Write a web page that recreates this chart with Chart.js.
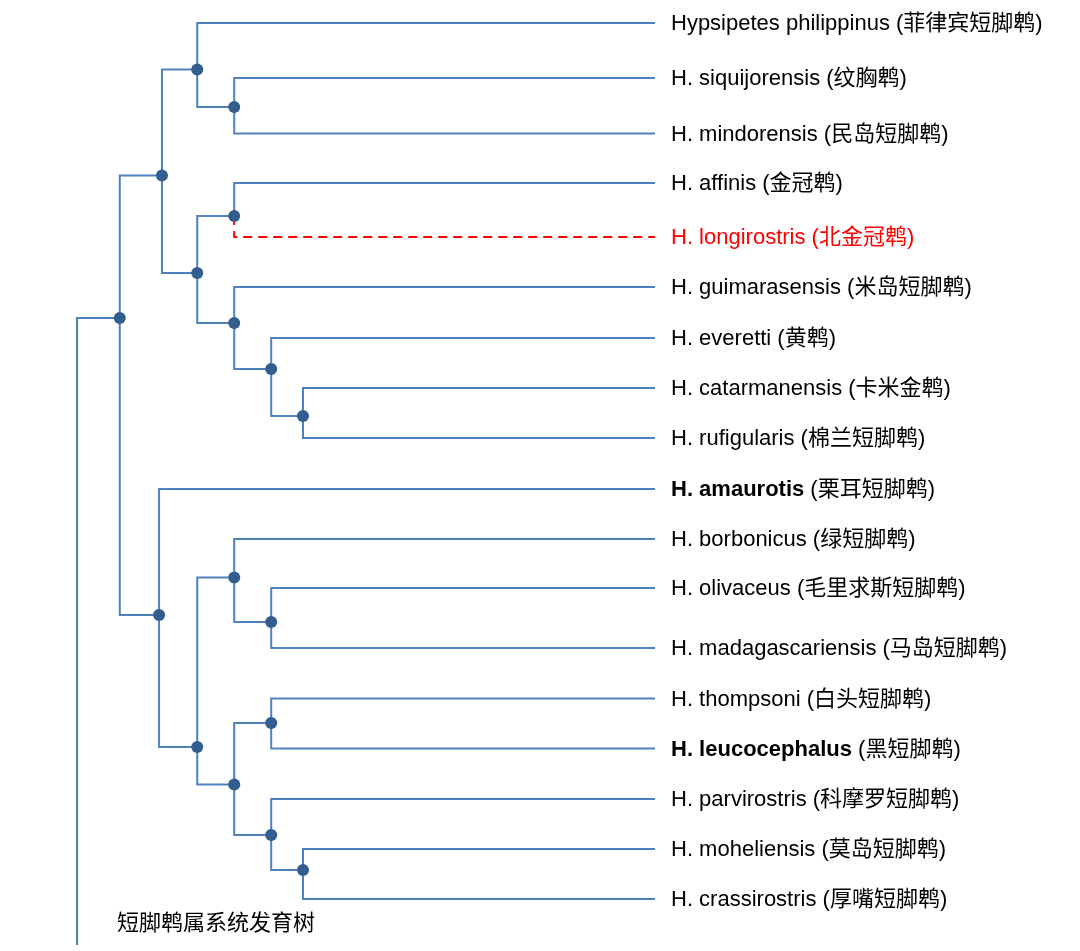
<!DOCTYPE html>
<html>
<head>
<meta charset="utf-8">
<script src="https://cdn.jsdelivr.net/npm/chart.js@4.4.1/dist/chart.umd.min.js"></script>
<style>
  html, body { margin: 0; padding: 0; background: #ffffff; }
  #wrap { width: 1080px; height: 951px; position: relative; }
</style>
</head>
<body>
<div id="wrap"><canvas id="tree"></canvas></div>
<script>
// leaves (top to bottom)
const leafLatin = [
  "Hypsipetes philippinus", "H. siquijorensis", "H. mindorensis", "H. affinis",
  "H. longirostris", "H. guimarasensis", "H. everetti", "H. catarmanensis",
  "H. rufigularis", "H. amaurotis", "H. borbonicus", "H. olivaceus",
  "H. madagascariensis", "H. thompsoni", "H. leucocephalus", "H. parvirostris",
  "H. moheliensis", "H. crassirostris"
];
const leafChinese = [
  "菲律宾短脚鹎", "纹胸鹎", "民岛短脚鹎", "金冠鹎", "北金冠鹎", "米岛短脚鹎",
  "黄鹎", "卡米金鹎", "棉兰短脚鹎", "栗耳短脚鹎", "绿短脚鹎", "毛里求斯短脚鹎",
  "马岛短脚鹎", "白头短脚鹎", "黑短脚鹎", "科摩罗短脚鹎", "莫岛短脚鹎", "厚嘴短脚鹎"
];
const leafRow = [0, 1.1, 2.21, 3.2, 4.28, 5.28, 6.3, 7.3, 8.3, 9.32, 10.32, 11.3, 12.5, 13.51, 14.51, 15.52, 16.52, 17.52];
const leafParent = [3, 4, 4, 6, 6, 7, 8, 9, 9, 10, 12, 13, 13, 15, 15, 16, 17, 17];
const boldLeaves = ["H. amaurotis", "H. leucocephalus"];
const dashedLeaves = ["H. longirostris"];
const tipDepth = 10;

// internal nodes, index 0 is the base of the root stem
const nodeDepth = [0, 0.74, 1.47, 2.08, 2.72, 2.08, 2.72, 2.72, 3.36, 3.91, 1.42, 2.08, 2.72, 3.36, 2.72, 3.36, 3.36, 3.91];
const nodeRow = [18.44, 5.9, 3.05, 0.93, 1.68, 5.0, 3.86, 6.0, 6.92, 7.86, 11.84, 14.48, 11.09, 11.98, 15.23, 14.0, 16.24, 16.94];
const nodeParent = [-1, 0, 1, 2, 3, 2, 5, 5, 7, 8, 1, 10, 11, 12, 11, 14, 14, 16];

const chartTitle = "短脚鹎属系统发育树";

const blue = "#4f81bd";
const dotBlue = "#335d8e";
const red = "#ff0000";

function elbow(px, py, cx, cy) {
  return [{ x: px, y: py }, { x: px, y: cy }, { x: cx, y: cy }];
}

const datasets = [];

// node dots on top
datasets.push({
  label: "nodes",
  data: nodeDepth.map((d, i) => ({ x: d, y: nodeRow[i] })).slice(1),
  showLine: false,
  pointRadius: 6,
  pointHoverRadius: 6,
  pointBackgroundColor: dotBlue,
  pointBorderColor: dotBlue,
  pointBorderWidth: 0,
  clip: false,
  order: 0
});

nodeParent.forEach((p, i) => {
  if (p < 0) return;
  datasets.push({
    data: elbow(nodeDepth[p], nodeRow[p], nodeDepth[i], nodeRow[i]),
    showLine: true,
    borderColor: blue,
    borderWidth: 2,
    pointRadius: 0,
    clip: false,
    order: 1
  });
});

leafParent.forEach((p, i) => {
  const dashed = dashedLeaves.includes(leafLatin[i]);
  datasets.push({
    data: elbow(nodeDepth[p], nodeRow[p], tipDepth, leafRow[i]),
    showLine: true,
    borderColor: dashed ? red : blue,
    borderDash: dashed ? [9, 6] : [],
    borderWidth: 2,
    pointRadius: 0,
    clip: false,
    order: 1
  });
});

const labelPlugin = {
  id: "leafLabels",
  afterDraw(chart) {
    const ctx = chart.ctx;
    const xs = chart.scales.x;
    const ys = chart.scales.y;
    const x0 = xs.getPixelForValue(tipDepth) + 16;
    ctx.save();
    ctx.textBaseline = "middle";
    ctx.textAlign = "left";
    leafLatin.forEach((name, i) => {
      const y = ys.getPixelForValue(leafRow[i]) + 1;
      const isRed = dashedLeaves.includes(name);
      const isBold = boldLeaves.includes(name);
      ctx.fillStyle = isRed ? red : "#000000";
      ctx.font = (isBold ? "bold " : "") + '22px "Liberation Sans", Arial, "Noto Sans CJK SC", sans-serif';
      ctx.fillText(name, x0, y);
      const w = ctx.measureText(name).width;
      ctx.font = '22px "Liberation Sans", Arial, "Noto Sans CJK SC", sans-serif';
      ctx.fillText(" (" + leafChinese[i] + ")", x0 + w, y);
    });
    ctx.fillStyle = "#000000";
    ctx.font = '22px "Noto Sans CJK SC", "Liberation Sans", sans-serif';
    ctx.fillText(chartTitle, chart.chartArea.left + 40, 922);
    ctx.restore();
  }
};

new Chart(document.getElementById("tree"), {
  type: "scatter",
  data: { datasets: datasets },
  options: {
    responsive: true,
    maintainAspectRatio: false,
    animation: false,
    layout: { padding: { left: 77, right: 425, top: 23, bottom: 6 } },
    scales: {
      x: { type: "linear", min: 0, max: tipDepth, display: false },
      y: { type: "linear", min: 0, max: 18.44, reverse: true, display: false }
    },
    plugins: {
      legend: { display: false },
      tooltip: { enabled: false }
    },
    elements: { line: { tension: 0 } }
  },
  plugins: [labelPlugin]
});
</script>
</body>
</html>
